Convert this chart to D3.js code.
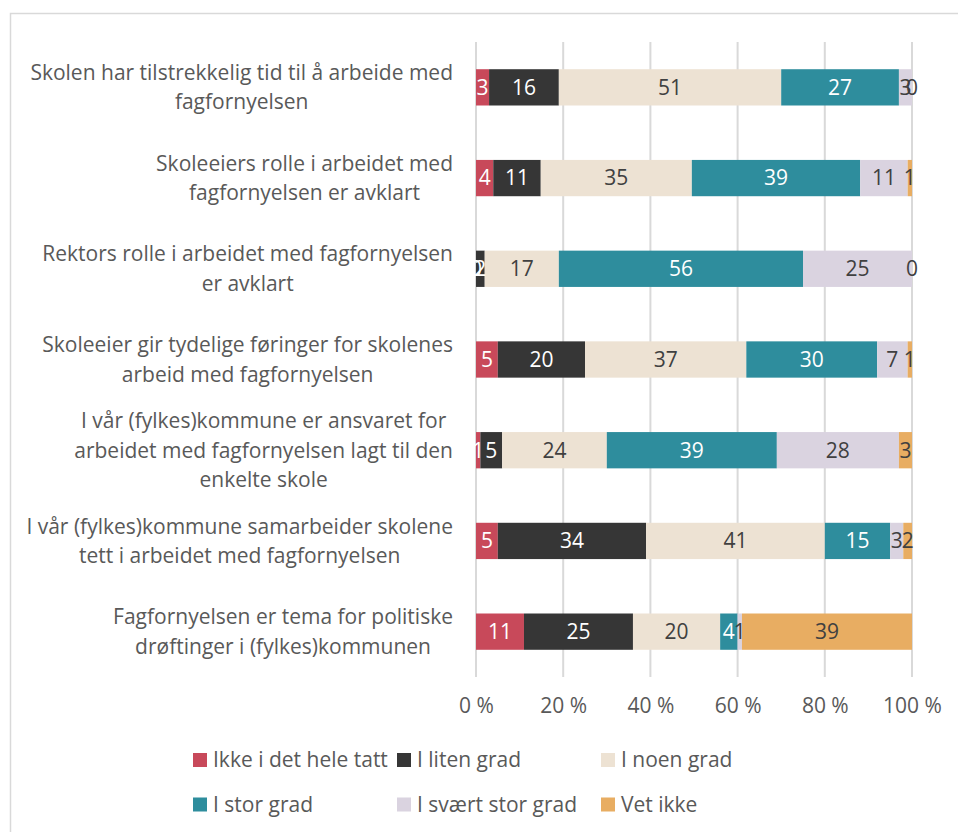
<!DOCTYPE html>
<html>
<head>
<meta charset="utf-8">
<script src="https://cdn.jsdelivr.net/npm/d3@7"></script>
<style>
  body { margin: 0; background: #fff; }
  text { font-family: "Open Sans", sans-serif; }
</style>
</head>
<body>
<div id="chart"></div>
<script>
// categories (top to bottom)
var categories = [
  ["Skolen har tilstrekkelig tid til å arbeide med", "fagfornyelsen"],
  ["Skoleeiers rolle i arbeidet med", "fagfornyelsen er avklart"],
  ["Rektors rolle i arbeidet med fagfornyelsen", "er avklart"],
  ["Skoleeier gir tydelige føringer for skolenes", "arbeid med fagfornyelsen"],
  ["I vår (fylkes)kommune er ansvaret for", "arbeidet med fagfornyelsen lagt til den", "enkelte skole"],
  ["I vår (fylkes)kommune samarbeider skolene", "tett i arbeidet med fagfornyelsen"],
  ["Fagfornyelsen er tema for politiske", "drøftinger i (fylkes)kommunen"]
];

// series names
var seriesNames = ["Ikke i det hele tatt", "I liten grad", "I noen grad", "I stor grad", "I svært stor grad", "Vet ikke"];

// values per series, one per category
var ikkeIDetHeleTatt = [3, 4, 0, 5, 1, 5, 11];
var iLitenGrad       = [16, 11, 2, 20, 5, 34, 25];
var iNoenGrad        = [51, 35, 17, 37, 24, 41, 20];
var iStorGrad        = [27, 39, 56, 30, 39, 15, 4];
var iSvaertStorGrad  = [3, 11, 25, 7, 28, 3, 1];
var vetIkke          = [0, 1, 0, 1, 3, 2, 39];

var tickValues = [0, 0.2, 0.4, 0.6, 0.8, 1];

var colors = ["#C8495A", "#363636", "#EDE2D3", "#2E8D9D", "#DAD3E0", "#E8AD62"];
var labelColors = ["#fff", "#fff", "#404040", "#fff", "#404040", "#404040"];

var width = 958, height = 832;
var plotLeft = 476, plotRight = 912, plotTop = 42, plotBottom = 677;
var fontSize = 21;

var allSeries = [ikkeIDetHeleTatt, iLitenGrad, iNoenGrad, iStorGrad, iSvaertStorGrad, vetIkke];

// build table for d3.stack
var table = categories.map(function(c, i) {
  var row = { idx: i };
  seriesNames.forEach(function(s, j) { row[s] = allSeries[j][i]; });
  return row;
});

var stack = d3.stack().keys(seriesNames).offset(d3.stackOffsetExpand);
var stacked = stack(table);

var svg = d3.select("#chart").append("svg")
  .attr("width", width)
  .attr("height", height);

// chart border
svg.append("rect")
  .attr("x", 10.5).attr("y", 13.5)
  .attr("width", width + 20).attr("height", height + 20)
  .attr("fill", "none")
  .attr("stroke", "#D9D9D9")
  .attr("stroke-width", 1.5);

var x = d3.scaleLinear().domain([0, 1]).range([plotLeft, plotRight]);
var y = d3.scaleBand()
  .domain(d3.range(categories.length))
  .range([plotTop, plotBottom])
  .paddingInner(0.6)
  .paddingOuter(0.3);

// gridlines
svg.append("g")
  .selectAll("line")
  .data(tickValues)
  .enter()
  .append("line")
    .attr("x1", function(d) { return x(d); })
    .attr("x2", function(d) { return x(d); })
    .attr("y1", plotTop)
    .attr("y2", plotBottom)
    .attr("stroke", "#D9D9D9")
    .attr("stroke-width", 2);

// x axis labels
var xAxis = svg.append("g")
  .attr("transform", "translate(0," + (plotBottom + 18) + ")")
  .call(d3.axisBottom(x).tickValues(tickValues).tickSize(0)
    .tickFormat(function(d) { return Math.round(d * 100) + " %"; }));
xAxis.select(".domain").remove();
xAxis.selectAll("text")
  .attr("font-size", fontSize)
  .attr("font-family", "Open Sans")
  .attr("fill", "#595959");

// bars
var groups = svg.append("g")
  .selectAll("g")
  .data(stacked)
  .enter()
  .append("g")
    .attr("fill", function(d, i) { return colors[i]; });

groups.selectAll("rect")
  .data(function(d) { return d; })
  .enter()
  .append("rect")
    .attr("x", function(d) { return x(d[0]); })
    .attr("y", function(d) { return y(d.data.idx); })
    .attr("width", function(d) { return x(d[1]) - x(d[0]); })
    .attr("height", y.bandwidth());

// data labels
stacked.forEach(function(s, j) {
  svg.append("g")
    .selectAll("text")
    .data(s)
    .enter()
    .append("text")
      .attr("x", function(d) { return x((d[0] + d[1]) / 2); })
      .attr("y", function(d) { return y(d.data.idx) + y.bandwidth() / 2; })
      .attr("dy", "0.35em")
      .attr("text-anchor", "middle")
      .attr("font-size", fontSize)
      .attr("fill", labelColors[j])
      .text(function(d) { return d.data[s.key]; });
});

// category labels, lines centered within a block right-aligned at 453
var catG = svg.append("g");
categories.forEach(function(lines, i) {
  var g = catG.append("g");
  var lineH = 29.5;
  var cy = y(i) + y.bandwidth() / 2;
  var t = g.selectAll("text")
    .data(lines)
    .enter()
    .append("text")
      .attr("y", function(d, k) { return cy + (k - (lines.length - 1) / 2) * lineH; })
      .attr("dy", "0.35em")
      .attr("text-anchor", "middle")
      .attr("font-size", fontSize)
      .attr("fill", "#595959")
      .text(function(d) { return d; });
  var maxW = 0;
  t.each(function() { maxW = Math.max(maxW, this.getComputedTextLength()); });
  t.attr("x", 453 - maxW / 2);
});

// legend
var legend = svg.append("g")
  .selectAll("g")
  .data(seriesNames)
  .enter()
  .append("g")
    .attr("transform", function(d, i) {
      return "translate(" + (193 + (i % 3) * 204) + "," + (760 + Math.floor(i / 3) * 44.5) + ")";
    });

legend.append("rect")
  .attr("x", 0).attr("y", -7)
  .attr("width", 14).attr("height", 14)
  .attr("fill", function(d, i) { return colors[i]; });

legend.append("text")
  .attr("x", 20)
  .attr("dy", "0.35em")
  .attr("font-size", fontSize)
  .attr("fill", "#595959")
  .text(function(d) { return d; });
</script>
</body>
</html>
